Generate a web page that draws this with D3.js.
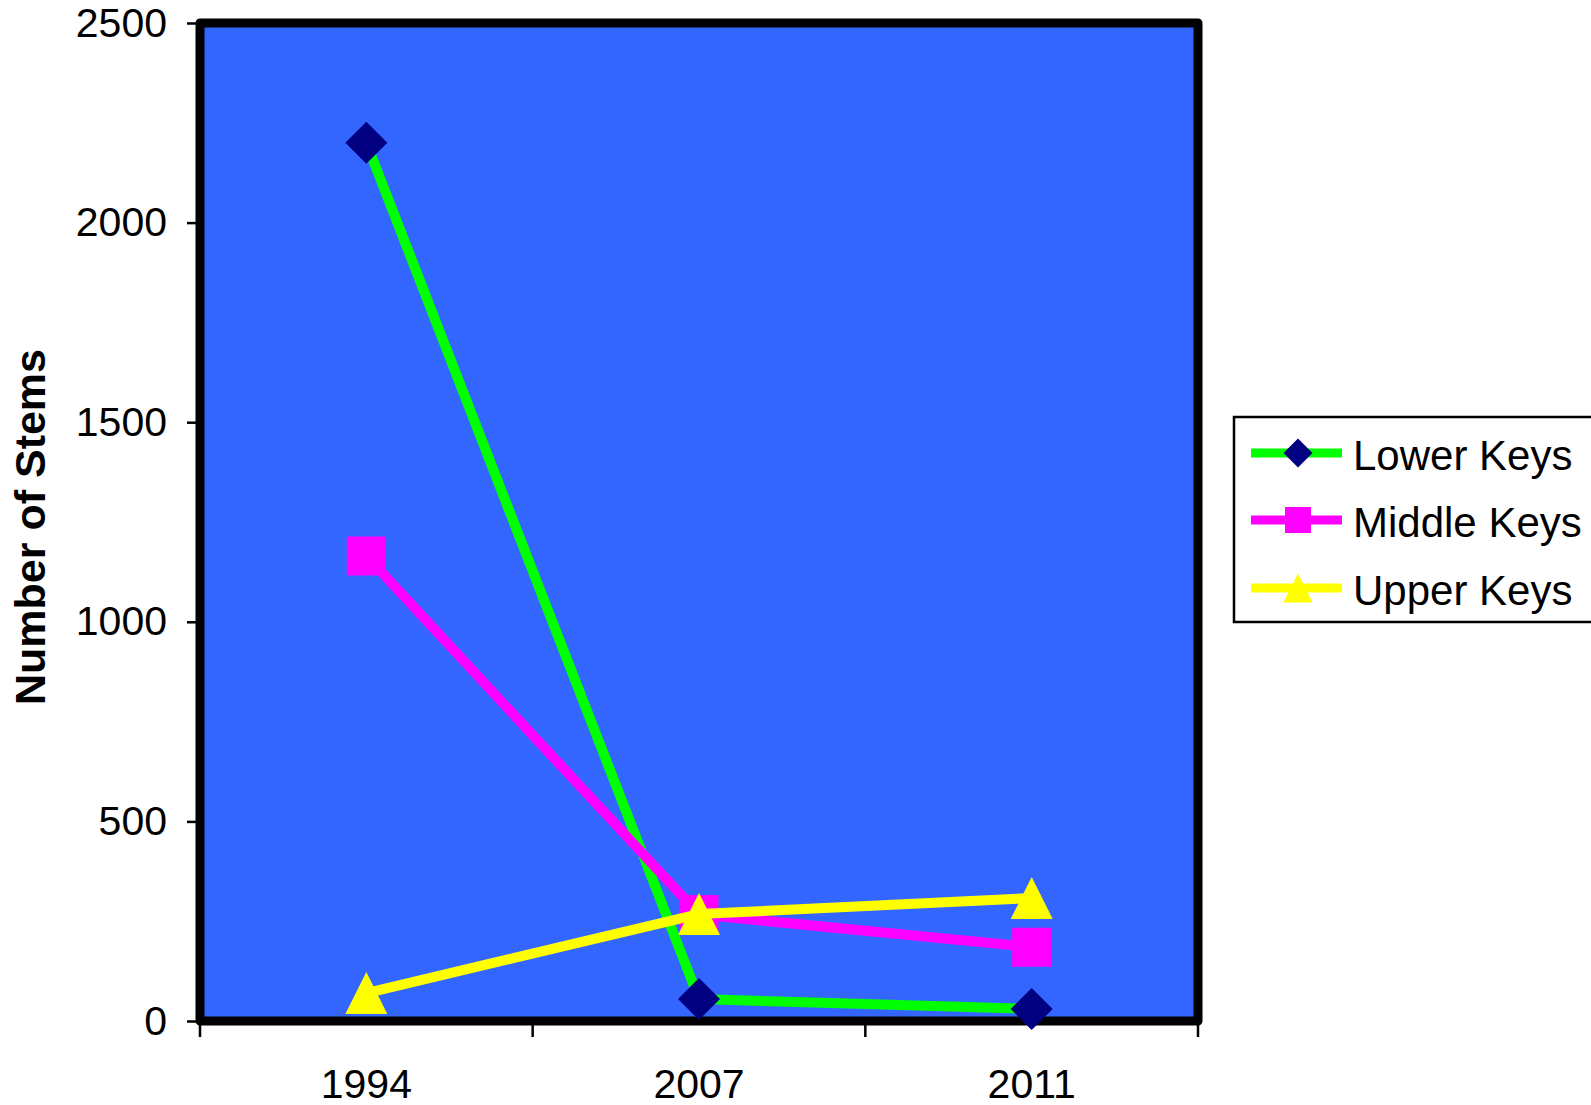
<!DOCTYPE html>
<html>
<head>
<meta charset="utf-8">
<script src="https://cdn.jsdelivr.net/npm/d3@7"></script>
<style>
  html, body { margin: 0; padding: 0; background: #ffffff; }
  svg { display: block; font-family: "Liberation Sans", Arial, sans-serif; }
</style>
</head>
<body>
<svg id="chart" width="1591" height="1105"></svg>
<script>
// Stem counts by survey year for each region of the Keys
const years = ["1994", "2007", "2011"];
const lowerKeys = [2200, 55, 30];
const middleKeys = [1165, 267, 185];
const upperKeys = [70, 268, 308];
const yTicks = [0, 500, 1000, 1500, 2000, 2500];

const seriesNames = ["Lower Keys", "Middle Keys", "Upper Keys"];
const seriesValues = [lowerKeys, middleKeys, upperKeys];
const lineColors = ["#00ff00", "#ff00ff", "#ffff00"];
const markerColors = ["#000080", "#ff00ff", "#ffff00"];
const markerShapes = ["diamond", "square", "triangle"];

const svg = d3.select("#chart");

const plot = { left: 200, top: 23, right: 1198, bottom: 1021 };

const x = d3.scaleBand().domain(years).range([plot.left, plot.right]).paddingInner(0).paddingOuter(0);
const y = d3.scaleLinear().domain([0, 2500]).range([plot.bottom, plot.top]);

// plot area background
svg.append("rect")
  .attr("x", plot.left).attr("y", plot.top)
  .attr("width", plot.right - plot.left).attr("height", plot.bottom - plot.top)
  .attr("fill", "#3366ff");

// y axis ticks and labels
const yAxis = d3.axisLeft(y).tickValues(yTicks).tickSize(13).tickPadding(20).tickFormat(d3.format("d"));
const gy = svg.append("g").attr("transform", `translate(${plot.left},0)`).call(yAxis);
gy.select(".domain").remove();
gy.selectAll(".tick line").attr("stroke", "#000").attr("stroke-width", 2.5);
gy.selectAll(".tick text").attr("font-size", 41).attr("fill", "#000")
  .attr("font-family", "'Liberation Sans', Arial, sans-serif");

// x axis: ticks sit on the category boundaries, labels at category centres
const boundaries = years.map(d => x(d)).concat([x(years[years.length - 1]) + x.bandwidth()]);
svg.append("g").selectAll("line").data(boundaries).join("line")
  .attr("x1", d => d).attr("x2", d => d)
  .attr("y1", plot.bottom).attr("y2", plot.bottom + 16)
  .attr("stroke", "#000").attr("stroke-width", 2.5);
svg.append("g").selectAll("text").data(years).join("text")
  .attr("x", d => x(d) + x.bandwidth() / 2)
  .attr("y", 1098)
  .attr("text-anchor", "middle")
  .attr("font-size", 41)
  .attr("fill", "#000")
  .text(d => d);

// plot frame
svg.append("rect")
  .attr("x", plot.left).attr("y", plot.top)
  .attr("width", plot.right - plot.left).attr("height", plot.bottom - plot.top)
  .attr("fill", "none").attr("stroke", "#000").attr("stroke-width", 9)
  .attr("stroke-linejoin", "round");

// y axis title
svg.append("text")
  .attr("transform", `translate(45,${(plot.top + plot.bottom) / 2 + 5}) rotate(-90)`)
  .attr("text-anchor", "middle")
  .attr("font-size", 43)
  .attr("font-weight", "bold")
  .attr("fill", "#000")
  .text("Number of Stems");

// marker paths centred on the origin
function markerPath(shape, size) {
  const h = size / 2;
  if (shape === "diamond") return `M0,${-h}L${h},0L0,${h}L${-h},0Z`;
  if (shape === "square") return `M${-h},${-h}H${h}V${h}H${-h}Z`;
  return `M0,${-h}L${h},${h}L${-h},${h}Z`;
}
const markerSize = { diamond: 42, square: 39, triangle: 42 };

const line = d3.line()
  .x((d, i) => x(years[i]) + x.bandwidth() / 2)
  .y(d => y(d));

seriesValues.forEach((vals, s) => {
  const g = svg.append("g");
  g.append("path")
    .attr("d", line(vals))
    .attr("fill", "none")
    .attr("stroke", lineColors[s])
    .attr("stroke-width", 10)
    .attr("stroke-linejoin", "round");
  g.selectAll("path.marker").data(vals).join("path")
    .attr("class", "marker")
    .attr("transform", (d, i) => `translate(${x(years[i]) + x.bandwidth() / 2},${y(d)})`)
    .attr("d", markerPath(markerShapes[s], markerSize[markerShapes[s]]))
    .attr("fill", markerColors[s]);
});

// legend
const legend = svg.append("g");
legend.append("rect")
  .attr("x", 1234).attr("y", 417)
  .attr("width", 400).attr("height", 205)
  .attr("fill", "#fff").attr("stroke", "#000").attr("stroke-width", 2.5);
const legendRows = [453, 520, 588];
const legendMarkerSize = { diamond: 29, square: 26, triangle: 29 };
seriesNames.forEach((name, s) => {
  const cy = legendRows[s];
  legend.append("line")
    .attr("x1", 1251).attr("x2", 1342).attr("y1", cy).attr("y2", cy)
    .attr("stroke", lineColors[s]).attr("stroke-width", 9);
  legend.append("path")
    .attr("transform", `translate(1298,${cy})`)
    .attr("d", markerPath(markerShapes[s], legendMarkerSize[markerShapes[s]]))
    .attr("fill", markerColors[s]);
  legend.append("text")
    .attr("x", 1353).attr("y", cy + 17)
    .attr("font-size", 42)
    .attr("fill", "#000")
    .text(name);
});
</script>
</body>
</html>
